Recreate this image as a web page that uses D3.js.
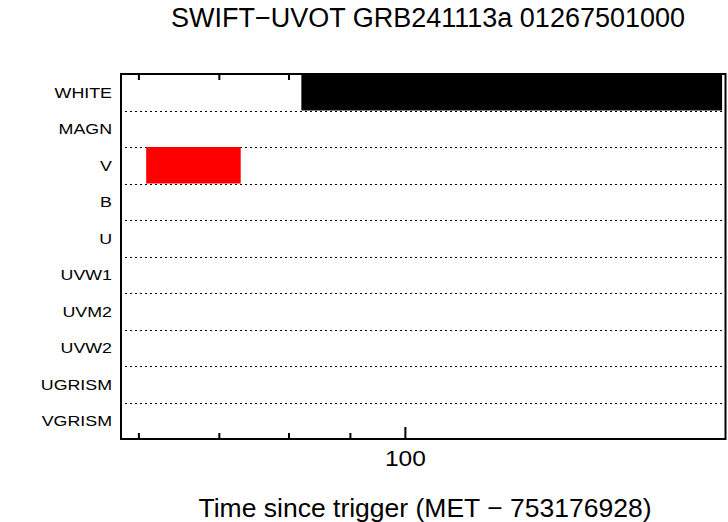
<!DOCTYPE html>
<html>
<head>
<meta charset="utf-8">
<script src="https://cdn.jsdelivr.net/npm/d3@7"></script>
<style>
  html, body { margin: 0; padding: 0; background: #fff; }
  svg { display: block; }
  text { font-family: "Liberation Sans", Arial, Helvetica, sans-serif; fill: #000; }
</style>
</head>
<body>
<svg id="chart" width="728" height="522"></svg>
<script>
// ---- data ----
const title = "SWIFT\u2212UVOT GRB241113a 01267501000";
const xLabel = "Time since trigger (MET \u2212 753176928)";
const filters = ["WHITE", "MAGN", "V", "B", "U", "UVW1", "UVM2", "UVW2", "UGRISM", "VGRISM"];
const exposureFilter = ["V", "WHITE"];
const exposureStart = [60.9, 82.0];
const exposureEnd = [73.0, 183.7];
const exposureColor = ["#ff0000", "#000000"];
const xDomain = [58.03, 184.9];
const majorTicks = [100];
const minorTicks = [60, 70, 80, 90];
const tickLabels = ["100"];

// ---- layout ----
const svg = d3.select("#chart");
const mLeft = 121, mRight = 725.5, mTop = 74, mBottom = 439;

const x = d3.scaleLog().domain(xDomain).range([mLeft, mRight]);
const y = d3.scaleBand().domain(filters).range([mTop, mBottom]).padding(0);

// title
svg.append("text")
  .attr("x", 428).attr("y", 27)
  .attr("text-anchor", "middle")
  .attr("font-size", 27)
  .text(title);

// x label
svg.append("text")
  .attr("x", 425).attr("y", 517)
  .attr("text-anchor", "middle")
  .attr("font-size", 26.5)
  .text(xLabel);

// dotted row separators
svg.append("g").selectAll("line")
  .data(filters.slice(1))
  .join("line")
  .attr("x1", mLeft + 4).attr("x2", mRight - 2)
  .attr("y1", d => Math.round(y(d)) + 0.5)
  .attr("y2", d => Math.round(y(d)) + 0.5)
  .attr("stroke", "#000")
  .attr("stroke-width", 1)
  .attr("stroke-dasharray", "2,3");

// row labels
svg.append("g").selectAll("text")
  .data(filters)
  .join("text")
  .attr("transform", d => `translate(112,${y(d) + y.bandwidth() / 2 + 5.5}) scale(1.15,1)`)
  .attr("text-anchor", "end")
  .attr("font-size", 15.5)
  .text(d => d);

// axis ticks
const bottomAxisMinor = d3.axisBottom(x).tickValues(minorTicks).tickSize(-6).tickFormat("");
const bottomAxisMajor = d3.axisBottom(x).tickValues(majorTicks).tickSize(-12).tickFormat((d, i) => tickLabels[i]);
const topAxisMinor = d3.axisTop(x).tickValues(minorTicks.concat(majorTicks)).tickSize(-6).tickFormat("");

const gbMin = svg.append("g").attr("transform", `translate(0,${mBottom})`).call(bottomAxisMinor);
const gbMaj = svg.append("g").attr("transform", `translate(0,${mBottom})`).call(bottomAxisMajor);
const gtMin = svg.append("g").attr("transform", `translate(0,${mTop})`).call(topAxisMinor);
[gbMin, gbMaj, gtMin].forEach(g => {
  g.select(".domain").remove();
  g.selectAll(".tick line").attr("stroke", "#000").attr("stroke-width", 2);
});
gbMaj.selectAll(".tick text")
  .attr("font-size", 21.5)
  .attr("font-family", "Liberation Sans, Arial, sans-serif")
  .attr("fill", "#000")
  .attr("dy", null)
  .attr("y", null)
  .attr("transform", "translate(0,27) scale(1.14,1)");

// frame
svg.append("rect")
  .attr("x", mLeft).attr("y", mTop)
  .attr("width", mRight - mLeft).attr("height", mBottom - mTop)
  .attr("fill", "none")
  .attr("stroke", "#000")
  .attr("stroke-width", 2);

// exposure bars (drawn over the frame)
svg.append("g").selectAll("rect")
  .data(exposureFilter.map((f, i) => ({ f, s: exposureStart[i], e: exposureEnd[i], c: exposureColor[i] })))
  .join("rect")
  .attr("x", d => x(d.s))
  .attr("width", d => x(d.e) - x(d.s))
  .attr("y", d => d.f === filters[0] ? y(d.f) - 1 : y(d.f))
  .attr("height", d => d.f === filters[0] ? y.bandwidth() + 1 : y.bandwidth())
  .attr("fill", d => d.c);
</script>
</body>
</html>
